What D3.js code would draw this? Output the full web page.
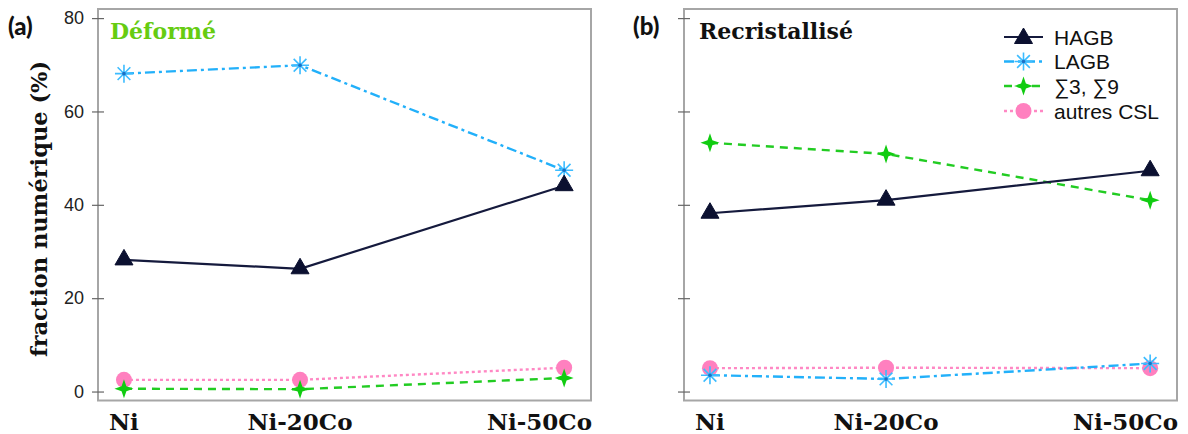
<!DOCTYPE html>
<html><head><meta charset="utf-8">
<script src="https://cdn.jsdelivr.net/npm/d3@7/dist/d3.min.js"></script>
<style>html,body{margin:0;padding:0;background:#fff;}svg{display:block;}</style>
</head><body>
<svg id="c" width="1188" height="434"></svg>
<script>
// ---- data ----
const categories = ["Ni", "Ni-20Co", "Ni-50Co"];
const coContent = [0, 20, 50];
const seriesNames = ["HAGB", "LAGB", "\u22113, \u22119", "autres CSL"];
const yTicks = [0, 20, 40, 60, 80];
const panelLabels = ["(a)", "(b)"];
const panelTitles = ["D\u00e9form\u00e9", "Recristallis\u00e9"];
// panel (a) Déformé
const defHAGB = [28.2, 26.3, 44.1];
const defLAGB = [68.1, 69.9, 47.4];
const defS39 = [0.6, 0.5, 2.9];
const defCSL = [2.5, 2.5, 5.1];
// panel (b) Recristallisé
const recHAGB = [38.2, 41.0, 47.3];
const recLAGB = [3.5, 2.7, 6.0];
const recS39 = [53.3, 50.9, 41.0];
const recCSL = [5.0, 5.1, 5.0];

const svg = d3.select("#c");
const PW = 493, PTOP = 9, PBOT = 400.5;
const panels = [
  {left: 98, series: [defHAGB, defLAGB, defS39, defCSL], labels: true, titleColor: "#66cc11", legend: false},
  {left: 684, series: [recHAGB, recLAGB, recS39, recCSL], labels: false, titleColor: "#111", legend: true}
];

const styles = [
  {stroke: "#151a3d", dash: null, width: 2.2, marker: "tri", fill: "#0b1030"},
  {stroke: "#22b0fa", dash: "10,4,3,4", width: 2.4, marker: "ast", fill: "#3cbcff"},
  {stroke: "#22cc22", dash: "8,6", width: 2.4, marker: "star4", fill: "#11cc11"},
  {stroke: "#ff88c4", dash: "3,3", width: 2.4, marker: "circ", fill: "#ff80bf"}
];

function drawMarker(g, type, x, y, st) {
  if (type === "tri") {
    g.append("path").attr("d", "M0,-10.5 L9,5 L-9,5 Z")
      .attr("transform", `translate(${x},${y})`).attr("fill", st.fill)
      .attr("stroke", st.fill).attr("stroke-width", 1).attr("stroke-linejoin", "round");
  } else if (type === "ast") {
    const r = 9, d = r * Math.SQRT1_2;
    g.append("path").attr("d", `M0,${-r}L0,${r}M${-r},0L${r},0M${-d},${-d}L${d},${d}M${-d},${d}L${d},${-d}`)
      .attr("transform", `translate(${x},${y})`).attr("stroke", st.fill).attr("stroke-width", 1.6).attr("fill", "none");
    g.append("circle").attr("cx", x).attr("cy", y).attr("r", 1.8).attr("fill", "#1d6fc4");
  } else if (type === "star4") {
    const R = 9.5, q = 2.4;
    g.append("path").attr("d", `M0,${-R}L${q},${-q}L${R},0L${q},${q}L0,${R}L${-q},${q}L${-R},0L${-q},${-q}Z`)
      .attr("transform", `translate(${x},${y})`).attr("fill", st.fill);
  } else {
    g.append("circle").attr("cx", x).attr("cy", y).attr("r", 8).attr("fill", st.fill);
  }
}

panels.forEach((p, pi) => {
  const x = d3.scaleLinear().domain([-2.95, 53.05]).range([p.left, p.left + PW]);
  const y = d3.scaleLinear().domain([-1.92, 81.95]).range([PBOT, PTOP]);
  const g = svg.append("g");

  // frame
  g.append("rect").attr("x", p.left).attr("y", PTOP).attr("width", PW).attr("height", PBOT - PTOP)
    .attr("fill", "none").attr("stroke", "#a6a6a6").attr("stroke-width", 2);

  // y axis ticks
  const axis = d3.axisLeft(y).tickValues(yTicks).tickSizeInner(6).tickSizeOuter(0).tickPadding(8)
    .tickFormat(p.labels ? d3.format("d") : () => "");
  const ag = g.append("g").attr("transform", `translate(${p.left},0)`).call(axis);
  ag.select(".domain").remove();
  ag.selectAll(".tick line").attr("x1", -6).attr("x2", 6).attr("stroke", "#666").attr("stroke-width", 1.2);
  ag.selectAll(".tick text").attr("font-family", "Liberation Sans, Arial, sans-serif")
    .attr("font-size", 18).attr("fill", "#222").attr("x", -14);

  // series (draw last legend entry first)
  for (let si = 3; si >= 0; si--) {
    const st = styles[si];
    const vals = p.series[si];
    const pts = coContent.map((c, i) => [x(c), y(vals[i])]);
    g.append("path").attr("d", d3.line()(pts)).attr("fill", "none")
      .attr("stroke", st.stroke).attr("stroke-width", st.width)
      .attr("stroke-dasharray", st.dash);
    pts.forEach(pt => drawMarker(g, st.marker, pt[0], pt[1], st));
  }

  // x category labels
  categories.forEach((c, i) => {
    const t = g.append("text").attr("y", 430).attr("text-anchor", "middle")
      .attr("font-family", "DejaVu Serif, serif").attr("font-weight", "bold")
      .attr("font-size", 23).attr("fill", "#111").text(c);
    const w = t.node().getComputedTextLength();
    const cx = Math.min(x(coContent[i]), p.left + PW + 1 - w / 2);
    t.attr("x", cx);
  });

  // panel label
  svg.append("text").attr("x", p.left - (pi === 0 ? 90 : 51)).attr("y", 35)
    .attr("font-family", "Lato, Open Sans, sans-serif").attr("font-weight", 900)
    .attr("font-size", 24).attr("fill", "#111").text(panelLabels[pi]);

  // panel title
  g.append("text").attr("x", p.left + (pi === 0 ? 12 : 15)).attr("y", 39)
    .attr("font-family", "DejaVu Serif, serif").attr("font-weight", "bold")
    .attr("font-size", 22).attr("fill", p.titleColor).text(panelTitles[pi]);

  // legend
  if (p.legend) {
    const rows = [37, 61.5, 86, 111];
    seriesNames.forEach((n, si) => {
      const st = styles[si];
      const ry = rows[si];
      g.append("line").attr("x1", 1004).attr("x2", 1043).attr("y1", ry).attr("y2", ry)
        .attr("stroke", st.stroke).attr("stroke-width", st.width).attr("stroke-dasharray", st.dash);
      drawMarker(g, st.marker, 1023.5, ry + (st.marker === "tri" ? 1.5 : 0), st);
      g.append("text").attr("x", 1054).attr("y", ry).attr("dy", "0.36em")
        .attr("font-family", "Liberation Sans, Arial, sans-serif").attr("font-size", 21)
        .attr("fill", "#111").text(n);
    });
  }
});

// y axis title
svg.append("text").attr("transform", "translate(47,209) rotate(-90)").attr("text-anchor", "middle")
  .attr("font-family", "DejaVu Serif, serif").attr("font-weight", "bold").attr("font-size", 22.5)
  .attr("fill", "#111").text("fraction num\u00e9rique (%)");
</script>
</body></html>
